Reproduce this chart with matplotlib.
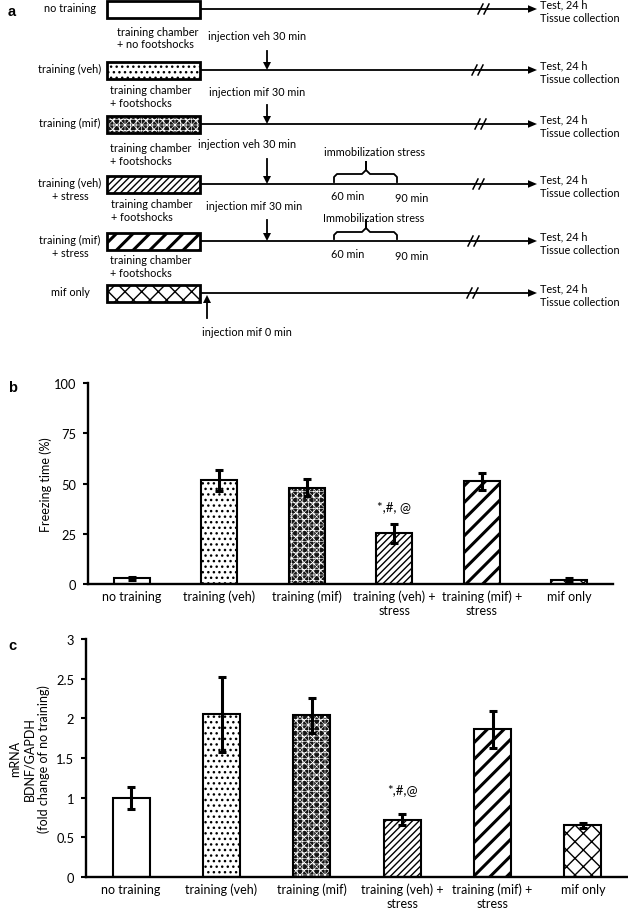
import matplotlib
matplotlib.use("Agg")
import matplotlib.pyplot as plt
import numpy as np
from matplotlib.patches import Rectangle, Polygon

plt.rcParams['font.family'] = ['Lato', 'DejaVu Sans']

# ---------------- data ----------------
groups = ["no training", "training (veh)", "training (mif)",
          "training (veh) +\nstress", "training (mif) +\nstress", "mif only"]
freezing = [2.8, 51.5, 48.0, 25.2, 51.0, 2.0]
freezing_err = [0.9, 5.0, 4.0, 4.6, 4.3, 0.8]
bdnf = [1.00, 2.05, 2.04, 0.72, 1.86, 0.65]
bdnf_err = [0.14, 0.47, 0.22, 0.07, 0.23, 0.03]
freezing_ticks = [0, 25, 50, 75, 100]
bdnf_ticks = [0, 0.5, 1, 1.5, 2, 2.5, 3]
bdnf_ticklabels = ["0", "0.5", "1", "1.5", "2", "2.5", "3"]
sig_label_b = "*,#, @"
sig_label_c = "*,#,@"
sig_group = 3

schematic_labels = ["no training", "training (veh)", "training (mif)",
                    "training (veh)\n+ stress", "training (mif)\n+ stress", "mif only"]

# ---------------- styles ----------------
styles = [
    dict(face='white', hatch=None, hcolor='black', hlw=1.0),
    dict(face='white', hatch='...', hcolor='black', hlw=1.0),
    dict(face='#151515', hatch='+++xxxx', hcolor='white', hlw=0.45),
    dict(face='white', hatch='/////', hcolor='black', hlw=1.0),
    dict(face='white', hatch='//', hcolor='black', hlw=2.2),
    dict(face='white', hatch='xx', hcolor='black', hlw=1.0),
]

W, H = 628, 920
fig = plt.figure(figsize=(W / 100, H / 100), dpi=100)

FS = 7.8


def set_hlw(artist, lw):
    if hasattr(artist, 'set_hatch_linewidth'):
        artist.set_hatch_linewidth(lw)


def styled_patch(ax, rect_args, st, edge_lw):
    with plt.rc_context({'hatch.linewidth': st['hlw']}):
        p = Rectangle(*rect_args, facecolor=st['face'], edgecolor=st['hcolor'],
                      hatch=st['hatch'], linewidth=0)
    set_hlw(p, st['hlw'])
    ax.add_patch(p)
    o = Rectangle(*rect_args, fill=False, edgecolor='black', linewidth=edge_lw)
    ax.add_patch(o)


# ---------------- panel a (schematic) ----------------
axa = fig.add_axes([0, 1 - 345 / H, 1, 345 / H])
axa.set_xlim(0, W)
axa.set_ylim(345, 0)
axa.axis('off')

row_y = [10, 71, 125, 185, 242, 294]
break_x = [483, 477, 480, 478, 473, 472]
box_x0, box_x1, box_h = 107, 200, 17
arrow_tip = 537

for i, y in enumerate(row_y):
    styled_patch(axa, ((box_x0, y - box_h / 2), box_x1 - box_x0, box_h), styles[i], 2.0)
    axa.plot([box_x1 + 1, arrow_tip - 8], [y, y], color='black', lw=1.3, solid_capstyle='butt')
    axa.add_patch(Polygon([[arrow_tip - 9, y - 3.8], [arrow_tip, y], [arrow_tip - 9, y + 3.8]],
                          closed=True, color='black', lw=0))
    bx = break_x[i]
    axa.plot([bx - 5, bx], [y + 5, y - 5], color='black', lw=1.1)
    axa.plot([bx + 1, bx + 6], [y + 5, y - 5], color='black', lw=1.1)
    axa.text(arrow_tip + 3, y - 5, "Test, 24 h", fontsize=FS, va='center', ha='left')
    axa.text(arrow_tip + 3, y + 8.5, "Tissue collection", fontsize=FS, va='center', ha='left')
    axa.text(70, y - 7, schematic_labels[i], fontsize=FS, va='top', ha='center',
             multialignment='center', linespacing=1.2)

# chamber texts
chamber = [(117, 33, "training chamber\n+ no footshocks"),
           (110, 92, "training chamber\n+ footshocks"),
           (110, 150, "training chamber\n+ footshocks"),
           (111, 206, "training chamber\n+ footshocks"),
           (110, 262, "training chamber\n+ footshocks")]
for x, y, t in chamber:
    axa.text(x, y - 6.5, t, fontsize=FS, va='top', ha='left', linespacing=1.2)

# injections
inj = [(208, 37, "injection veh 30 min", 52, 71),
       (209, 92, "injection mif 30 min", 106, 125),
       (198, 144, "injection veh 30 min", 160, 185),
       (206, 207, "injection mif 30 min", 221, 242)]
for x, y, t, y0, y1 in inj:
    axa.text(x, y, t, fontsize=FS, va='center', ha='left')
    axa.plot([267, 267], [y0, y1 - 7], color='black', lw=1.3)
    axa.add_patch(Polygon([[263, y1 - 8], [271, y1 - 8], [267, y1]], closed=True, color='black', lw=0))

axa.text(202, 332, "injection mif 0 min", fontsize=FS, va='center', ha='left')
axa.plot([207, 207], [319, 303], color='black', lw=1.3)
axa.add_patch(Polygon([[203, 304], [211, 304], [207, 296]], closed=True, color='black', lw=0))

# immobilization braces
for (ty, txt, by, ry) in [(152, "immobilization stress", 175, 185),
                          (218, "Immobilization stress", 233, 242)]:
    axa.text(374, ty, txt, fontsize=FS, va='center', ha='center')
    bx0, bx1, bc = 334, 397, 366
    xs = [bx0, bx0, bx0 + 3, bc - 4, bc, bc, bc, bc + 4, bx1 - 3, bx1, bx1]
    ys = [ry - 2, by + 3, by, by, by - 4, by - 12, by - 4, by, by, by + 3, ry - 2]
    axa.plot(xs, ys, color='black', lw=1.3, solid_joinstyle='round')
    axa.text(348, ry + 12, "60 min", fontsize=FS, va='center', ha='center')
    axa.text(412, ry + 14, "90 min", fontsize=FS, va='center', ha='center')

fig.text(8 / W, 1 - 12 / H, "a", fontsize=10.5, fontweight='bold',
         family=['Liberation Sans', 'DejaVu Sans'], va='center', ha='left')


# ---------------- bar panels ----------------
def bar_panel(rect, values, errs, ticks, ticklabels, ylabel, label_x, sig_text, sig_off):
    ax = fig.add_axes(rect)
    x = np.arange(len(groups))
    width = 0.41
    for i in range(len(groups)):
        st = styles[i]
        with plt.rc_context({'hatch.linewidth': st['hlw']}):
            bars = ax.bar(x[i], values[i], width, color=st['face'], edgecolor=st['hcolor'],
                          hatch=st['hatch'], linewidth=0)
        for b in bars:
            set_hlw(b, st['hlw'])
    ax.bar(x, values, width, fill=False, edgecolor='black', linewidth=1.5)
    ax.errorbar(x, values, yerr=errs, fmt='none', ecolor='black', elinewidth=2.2,
                capsize=2.7, capthick=2.2)
    ax.set_xlim(-0.5, len(groups) - 0.5)
    ax.set_ylim(ticks[0], ticks[-1])
    ax.set_yticks(ticks, ticklabels)
    ax.set_xticks(x, groups)
    ax.tick_params(axis='x', length=0, pad=4, labelsize=9)
    ax.tick_params(axis='y', length=3.5, width=1.5, direction='out', pad=5, labelsize=9.3)
    for s in ['top', 'right']:
        ax.spines[s].set_visible(False)
    for s in ['left', 'bottom']:
        ax.spines[s].set_linewidth(1.7)
    ax.set_ylabel(ylabel, fontsize=9, linespacing=1.2)
    ax.yaxis.set_label_coords(label_x, 0.5)
    ax.annotate(sig_text, xy=(sig_group, values[sig_group] + errs[sig_group]),
                xytext=(0, sig_off), textcoords='offset points', ha='center', va='center',
                fontsize=9.5)
    return ax


bar_panel([88 / W, 1 - 585 / H, (613 - 88) / W, (585 - 384) / H],
          freezing, freezing_err, freezing_ticks, [str(t) for t in freezing_ticks],
          "Freezing time (%)", -0.069, sig_label_b, 13)
fig.text(8 / W, 1 - 388 / H, "b", fontsize=10.5, fontweight='bold',
         family=['Liberation Sans', 'DejaVu Sans'], va='center', ha='left')

bar_panel([86 / W, 1 - 878 / H, (W - 86) / W, (878 - 640) / H],
          bdnf, bdnf_err, bdnf_ticks, bdnf_ticklabels,
          "mRNA\nBDNF/GAPDH\n(fold change of no training)", -0.066, sig_label_c, 18)
fig.text(8 / W, 1 - 646 / H, "c", fontsize=10.5, fontweight='bold',
         family=['Liberation Sans', 'DejaVu Sans'], va='center', ha='left')

fig.savefig("out.png", dpi=100)
